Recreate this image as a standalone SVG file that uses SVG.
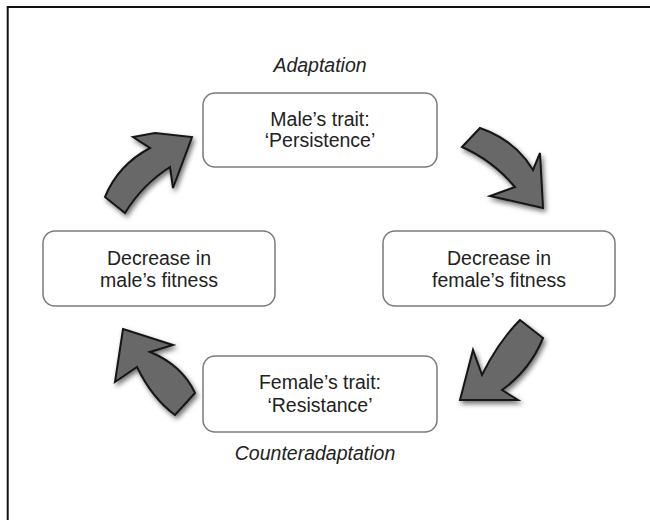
<svg xmlns="http://www.w3.org/2000/svg" width="650" height="520" viewBox="0 0 650 520">
<defs>
<style>
.box{fill:#fff;stroke:#7a7a7a;stroke-width:1.5}
.t{font-family:"Liberation Sans",Arial,sans-serif;font-size:19.5px;fill:#222;text-anchor:middle}
.it{font-style:italic}
.arr{fill:#686868;stroke:#151515;stroke-width:2;stroke-linejoin:miter;filter:url(#sh)}
</style>
<filter id="sh" x="-30%" y="-30%" width="160%" height="160%">
<feDropShadow dx="2" dy="3" stdDeviation="2.5" flood-color="#000" flood-opacity="0.55"/>
</filter>
</defs>
<rect width="650" height="520" fill="#fff"/>
<rect x="7.7" y="7" width="700" height="600" fill="none" stroke="#111" stroke-width="2"/>
<g id="connectors">
<path class="arr" d="M105,197 Q118,165 150,148 L133,137 L155,133 L192,137 L173,188 L170,167 Q142,185 125,213 Z"/>
<path class="arr" d="M480,128 Q515,140 533,170 L540,153 L543,208 L490,196 L515,187 Q492,160 462,147 Z"/>
<path class="arr" d="M520,320 Q498,342 482,375 L473,350 L460,400 L518,400 L502,390 Q530,370 543,338 Z"/>
<path class="arr" d="M123,329 L173,345 L150,352 Q182,365 195,393 L175,415 Q152,398 137,367 L115,382 Z"/>
</g>
<g id="male-trait">
<rect class="box" x="203" y="93" width="234" height="74" rx="12"/>
<text class="t" x="320" y="126">Male’s trait:</text>
<text class="t" x="320" y="147">‘Persistence’</text>
</g>
<g id="adaptation-label">
<text class="t it" x="320" y="72">Adaptation</text>
</g>
<g id="female-fitness">
<rect class="box" x="383" y="231" width="232" height="75" rx="12"/>
<text class="t" x="499" y="265">Decrease in</text>
<text class="t" x="499" y="287">female’s fitness</text>
</g>
<g id="female-trait">
<rect class="box" x="203" y="356" width="234" height="76" rx="12"/>
<text class="t" x="320" y="389">Female’s trait:</text>
<text class="t" x="320" y="412">‘Resistance’</text>
</g>
<g id="counteradaptation-label">
<text class="t it" x="315" y="460">Counteradaptation</text>
</g>
<g id="male-fitness">
<rect class="box" x="43" y="231" width="232" height="75" rx="12"/>
<text class="t" x="159" y="265">Decrease in</text>
<text class="t" x="159" y="287">male’s fitness</text>
</g>
</svg>
